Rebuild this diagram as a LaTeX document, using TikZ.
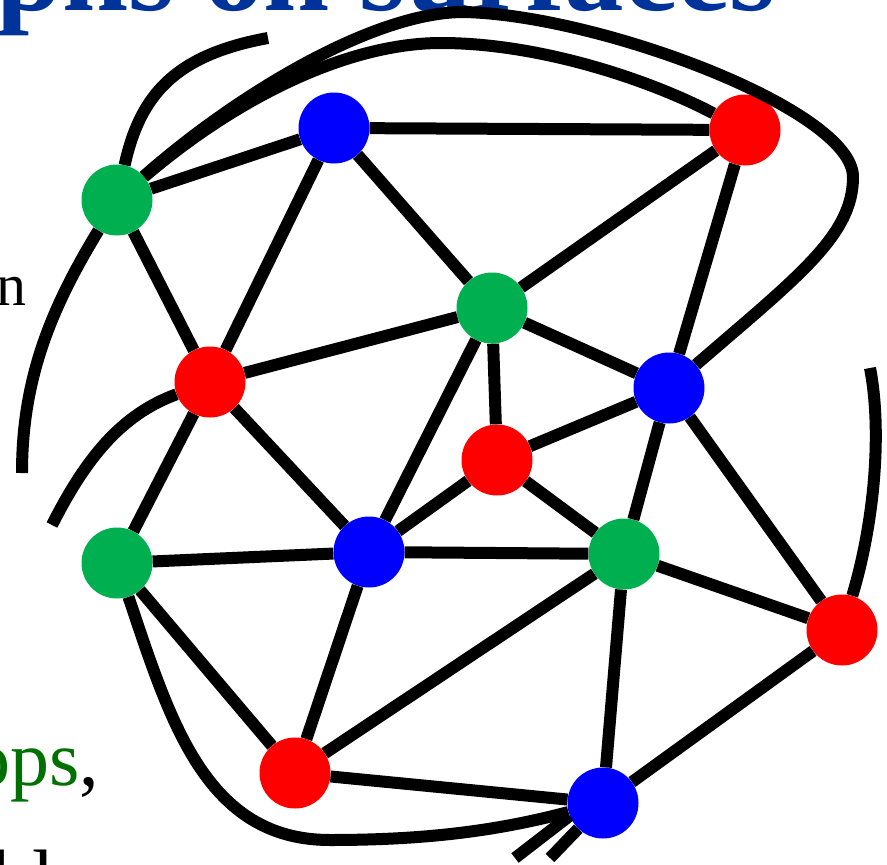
\documentclass[tikz,border=0pt]{standalone}
\usepackage{fontspec}
\setmainfont{Liberation Serif}
\definecolor{ngreen}{RGB}{0,176,80}
\definecolor{nred}{RGB}{255,0,0}
\definecolor{nblue}{RGB}{0,0,255}
\definecolor{titleblue}{RGB}{0,51,153}
\definecolor{textgreen}{RGB}{0,112,0}
\begin{document}
\begin{tikzpicture}[x=1pt,y=-1pt,
  vtx/.style={circle,minimum size=71pt,inner sep=0pt},
  gv/.style={vtx,fill=ngreen},
  rv/.style={vtx,fill=nred},
  bv/.style={vtx,fill=nblue},
  edge/.style={line width=12pt,black},
  txt/.style={inner sep=0pt,outer sep=0pt}]
\useasboundingbox (0,0) rectangle (887,865);
\clip (0,0) rectangle (887,865);
% text fragments
\node[txt,anchor=base west,text=titleblue] (title) at (-4,10) {\fontsize{119}{130}\selectfont\bfseries phs on surfaces};
\node[txt,anchor=base east] (tn) at (27,305) {\fontsize{60}{70}\selectfont n};
\node[txt,anchor=base east] (tops) at (99,785) {\fontsize{78}{90}\selectfont\textcolor{textgreen}{ops},};
\node[txt,anchor=base west] (tble) at (-7,905) {\fontsize{80}{90}\selectfont ble};
% vertices
\node[gv] (G1) at (117,200) {};
\node[bv] (B1) at (334,128) {};
\node[rv] (R1) at (745,130) {};
\node[gv] (G2) at (492,308) {};
\node[rv] (R2) at (210,382) {};
\node[bv] (B2) at (669,388) {};
\node[rv] (R3) at (497,460) {};
\node[gv] (G3) at (117,563) {};
\node[bv] (B3) at (369,552) {};
\node[gv] (G4) at (624,554) {};
\node[rv] (R4) at (842,630) {};
\node[rv] (R5) at (295,773) {};
\node[bv] (B4) at (603,803) {};
% free ends
\coordinate (e1) at (268,38);
\coordinate (e2) at (22,473);
\coordinate (e3) at (52,525);
\coordinate (e4) at (870,368);
\coordinate (s1) at (515,858);
\coordinate (s2) at (550,858);
\coordinate (pk1) at (464,12);
\coordinate (rt1) at (853,177);
\coordinate (pk2) at (441,43);
\coordinate (bt1) at (330,840);
% straight edges
\draw[edge] (G1) -- (B1);
\draw[edge] (B1) -- (R1);
\draw[edge] (B1) -- (R2);
\draw[edge] (B1) -- (G2);
\draw[edge] (R1) -- (G2);
\draw[edge] (R1) -- (B2);
\draw[edge] (G1) -- (R2);
\draw[edge] (R2) -- (G2);
\draw[edge] (R2) -- (G3);
\draw[edge] (R2) -- (B3);
\draw[edge] (G2) -- (R3);
\draw[edge] (G2) -- (B2);
\draw[edge] (G2) -- (B3);
\draw[edge] (B2) -- (R3);
\draw[edge] (B2) -- (G4);
\draw[edge] (B2) -- (R4);
\draw[edge] (R3) -- (B3);
\draw[edge] (R3) -- (G4);
\draw[edge] (G3) -- (B3);
\draw[edge] (B3) -- (G4);
\draw[edge] (B3) -- (R5);
\draw[edge] (G3) -- (R5);
\draw[edge] (G4) -- (R4);
\draw[edge] (G4) -- (R5);
\draw[edge] (G4) -- (B4);
\draw[edge] (R4) -- (B4);
\draw[edge] (R5) -- (B4);
% curved edges
\draw[edge] (G1) .. controls (140,95) and (175,55) .. (e1);
\draw[edge] (G1) .. controls (230,100) and (370,12) .. (pk1)
  .. controls (600,15) and (853,110) .. (rt1)
  .. controls (853,235) and (800,275) .. (B2);
\draw[edge] (G1) .. controls (240,95) and (350,43) .. (pk2)
  .. controls (540,43) and (650,80) .. (R1);
\draw[edge] (G1) .. controls (50,310) and (22,380) .. (e2);
\draw[edge] (R2) .. controls (120,415) and (85,460) .. (e3);
\draw[edge] (R4) .. controls (875,520) and (882,430) .. (e4);
\draw[edge] (G3) .. controls (170,720) and (205,840) .. (bt1)
  .. controls (430,840) and (500,830) .. (B4);
\draw[edge] (s1) -- (B4.201);
\draw[edge] (s2) -- (B4.226);
\end{tikzpicture}
\end{document}
